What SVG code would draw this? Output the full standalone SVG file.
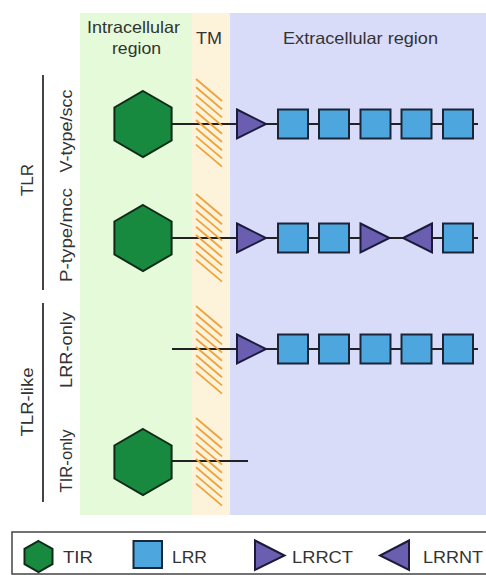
<svg xmlns="http://www.w3.org/2000/svg" xmlns:xlink="http://www.w3.org/1999/xlink" width="486" height="575" viewBox="0 0 486 575">
<style>
  text { font-family: "Liberation Sans", Arial, sans-serif; fill: #333; font-size: 17px; }
  .hdr { font-size: 16.5px; }
  .tir { fill: #188a40; stroke: #0f2a18; stroke-width: 2; stroke-linejoin: miter; }
  .lrr { fill: #4ea6de; stroke: #1a2638; stroke-width: 2; }
  .tri { fill: #6a5eb0; stroke: #1c1a3a; stroke-width: 2; stroke-linejoin: miter; }
  .bb { stroke: #222; stroke-width: 2; fill: none; }
  .hatch line { stroke: #eea23c; stroke-width: 1.8; }
  .brk { stroke: #444; stroke-width: 2; }
</style>
<defs>
  <polygon id="hex" points="0,-33 28.6,-16.5 28.6,16.5 0,33 -28.6,16.5 -28.6,-16.5"/>
  <rect id="sq" x="-15" y="-14.5" width="30" height="29"/>
  <polygon id="tr" points="-14.5,-14.5 14.5,0 -14.5,14.5"/>
  <polygon id="tl" points="14.5,-14.5 -14.5,0 14.5,14.5"/>
  <g id="hatch" class="hatch">
    <line x1="196" y1="-43" x2="222" y2="-21"/>
    <line x1="196" y1="-34.8" x2="222" y2="-12.8"/>
    <line x1="196" y1="-26.6" x2="222" y2="-4.6"/>
    <line x1="196" y1="-18.4" x2="222" y2="3.6"/>
    <line x1="196" y1="-10.2" x2="222" y2="11.8"/>
    <line x1="196" y1="-2" x2="222" y2="20"/>
    <line x1="196" y1="6.2" x2="222" y2="28.2"/>
    <line x1="196" y1="14.4" x2="222" y2="36.4"/>
    <line x1="196" y1="22.6" x2="222" y2="44.6"/>
  </g>
</defs>

<!-- regions -->
<g id="regions">
  <rect x="80" y="13" width="112" height="502" fill="#e4fad8"/>
  <rect x="192" y="13" width="38" height="502" fill="#fdf3da"/>
  <rect x="230" y="13" width="256" height="502" fill="#d9dcf9"/>
</g>

<!-- headers -->
<g id="headers">
  <text class="hdr" x="133.5" y="33" text-anchor="middle" textLength="93" lengthAdjust="spacingAndGlyphs">Intracellular</text>
  <text class="hdr" x="136.5" y="54" text-anchor="middle" textLength="49" lengthAdjust="spacingAndGlyphs">region</text>
  <text class="hdr" x="209" y="44" text-anchor="middle" textLength="26" lengthAdjust="spacingAndGlyphs">TM</text>
  <text class="hdr" x="360.5" y="44" text-anchor="middle" textLength="155" lengthAdjust="spacingAndGlyphs">Extracellular region</text>
</g>

<!-- left group labels -->
<g id="group-labels">
  <line class="brk" x1="43" y1="75" x2="43" y2="290"/>
  <line class="brk" x1="43" y1="303" x2="43" y2="502"/>
  <text transform="translate(33,180) rotate(-90)" text-anchor="middle">TLR</text>
  <text transform="translate(33,402) rotate(-90)" text-anchor="middle" textLength="69" lengthAdjust="spacingAndGlyphs">TLR-like</text>
  <text transform="translate(72,131) rotate(-90)" text-anchor="middle" textLength="83" lengthAdjust="spacingAndGlyphs">V-type/scc</text>
  <text transform="translate(72,235) rotate(-90)" text-anchor="middle" textLength="94" lengthAdjust="spacingAndGlyphs">P-type/mcc</text>
  <text transform="translate(72,350) rotate(-90)" text-anchor="middle" textLength="76" lengthAdjust="spacingAndGlyphs">LRR-only</text>
  <text transform="translate(72,461) rotate(-90)" text-anchor="middle" textLength="63" lengthAdjust="spacingAndGlyphs">TIR-only</text>
</g>

<!-- connectors (backbones) -->
<g id="connectors">
  <line class="bb" x1="172" y1="124" x2="478" y2="124"/>
  <line class="bb" x1="172" y1="238" x2="478" y2="238"/>
  <line class="bb" x1="172" y1="349" x2="478" y2="349"/>
  <line class="bb" x1="172" y1="461" x2="248" y2="461"/>
</g>

<!-- TM hatches -->
<g id="tm-hatches">
  <use xlink:href="#hatch" href="#hatch" y="122"/>
  <use xlink:href="#hatch" href="#hatch" y="237"/>
  <use xlink:href="#hatch" href="#hatch" y="349"/>
  <use xlink:href="#hatch" href="#hatch" y="461"/>
</g>

<!-- Row 1: V-type/scc -->
<g id="row1">
  <g id="r1-tir"><use href="#hex" class="tir" x="143" y="124"/></g>
  <g id="r1-lrrct"><use href="#tr" class="tri" x="251.5" y="124"/></g>
  <g id="r1-lrr1"><use href="#sq" class="lrr" x="293" y="124"/></g>
  <g id="r1-lrr2"><use href="#sq" class="lrr" x="334" y="124"/></g>
  <g id="r1-lrr3"><use href="#sq" class="lrr" x="375.5" y="124"/></g>
  <g id="r1-lrr4"><use href="#sq" class="lrr" x="416.5" y="124"/></g>
  <g id="r1-lrr5"><use href="#sq" class="lrr" x="458" y="124"/></g>
</g>

<!-- Row 2: P-type/mcc -->
<g id="row2">
  <g id="r2-tir"><use href="#hex" class="tir" x="143" y="238"/></g>
  <g id="r2-lrrct1"><use href="#tr" class="tri" x="251.5" y="238"/></g>
  <g id="r2-lrr1"><use href="#sq" class="lrr" x="293" y="238"/></g>
  <g id="r2-lrr2"><use href="#sq" class="lrr" x="334" y="238"/></g>
  <g id="r2-lrrct2"><use href="#tr" class="tri" x="375" y="238"/></g>
  <g id="r2-lrrnt"><use href="#tl" class="tri" x="417.5" y="238"/></g>
  <g id="r2-lrr3"><use href="#sq" class="lrr" x="458" y="238"/></g>
</g>

<!-- Row 3: LRR-only -->
<g id="row3">
  <g id="r3-lrrct"><use href="#tr" class="tri" x="251.5" y="349"/></g>
  <g id="r3-lrr1"><use href="#sq" class="lrr" x="293" y="349"/></g>
  <g id="r3-lrr2"><use href="#sq" class="lrr" x="334" y="349"/></g>
  <g id="r3-lrr3"><use href="#sq" class="lrr" x="375.5" y="349"/></g>
  <g id="r3-lrr4"><use href="#sq" class="lrr" x="416.5" y="349"/></g>
  <g id="r3-lrr5"><use href="#sq" class="lrr" x="458" y="349"/></g>
</g>

<!-- Row 4: TIR-only -->
<g id="row4">
  <g id="r4-tir"><use href="#hex" class="tir" x="143" y="462"/></g>
</g>

<!-- Legend -->
<g id="legend">
  <rect x="12" y="532" width="480" height="42" fill="#fff" stroke="#444" stroke-width="1.5"/>
  <g id="leg-tir">
    <polygon class="tir" points="38.5,541 52.5,548.8 52.5,564.2 38.5,572 24.5,564.2 24.5,548.8"/>
    <text x="63" y="563" textLength="30" lengthAdjust="spacingAndGlyphs">TIR</text>
  </g>
  <g id="leg-lrr">
    <rect class="lrr" x="133.5" y="541" width="28.5" height="27"/>
    <text x="172" y="563" textLength="35" lengthAdjust="spacingAndGlyphs">LRR</text>
  </g>
  <g id="leg-lrrct">
    <polygon class="tri" points="255,540.5 284.5,555.5 255,570"/>
    <text x="292" y="563" textLength="61" lengthAdjust="spacingAndGlyphs">LRRCT</text>
  </g>
  <g id="leg-lrrnt">
    <polygon class="tri" points="409,540.5 380,555.5 409,570"/>
    <text x="423" y="563" textLength="60" lengthAdjust="spacingAndGlyphs">LRRNT</text>
  </g>
</g>
</svg>
